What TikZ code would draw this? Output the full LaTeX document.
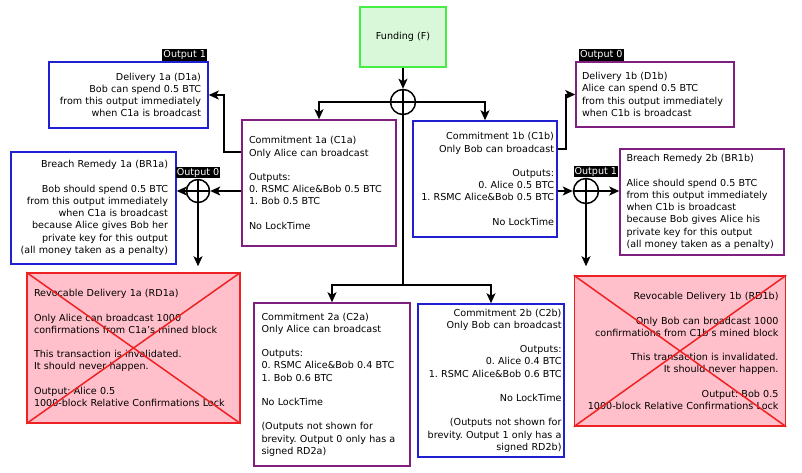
\documentclass[tikz,border=0pt]{standalone}
\usepackage{fontspec}
\setmainfont{DejaVu Sans}
\usetikzlibrary{arrows.meta}
\usetikzlibrary{calc,positioning}
\frenchspacing

\definecolor{txblue}{HTML}{2020D0}
\definecolor{txpurple}{HTML}{7F1F7F}
\definecolor{fundgreen}{HTML}{44EE44}
\definecolor{fundfill}{HTML}{D9F7D9}
\definecolor{rdfill}{HTML}{FFC0CB}
\definecolor{rdred}{HTML}{EE2222}

\begin{document}
\begin{tikzpicture}[x=1pt,y=-1pt,
    font=\fontsize{9.6}{12.2}\selectfont,
    >={Stealth[length=10pt,width=9pt,inset=2.5pt]},
    every path/.style={line width=1.5pt},
    tx/.style={draw,line width=1.5pt,inner xsep=7pt,inner ysep=0pt},
    fundbox/.style={draw=fundgreen,fill=fundfill,line width=1.5pt,minimum width=86pt,minimum height=60pt},
    rdbox/.style={tx,draw=rdred,fill=rdfill},
    xc/.style={circle,draw,line width=1.5pt,minimum size=25pt,inner sep=0pt},
    outlbl/.style={fill=black,text=white,inner xsep=1pt,inner ysep=1pt}]
      \useasboundingbox (0,0) rectangle (802,472);

      % Funding
      \node[fundbox] (fund) at (403,37) {Funding (F)};
      \node[xc] (xF) at (403,102) {};
      \draw (xF.north) -- (xF.south) (xF.west) -- (xF.east);
      \draw[->] (fund) -- (xF);

      % Commitment 1a
      \node[tx,draw=txpurple,align=left,text width=140pt,minimum height=126pt] (C1a) at (319,183)
        {Commitment 1a (C1a)\\Only Alice can broadcast\\[12.2pt]Outputs:\\0. RSMC Alice\&Bob 0.5 BTC\\1. Bob 0.5 BTC\\[12.2pt]No LockTime};

      % Commitment 1b
      \node[tx,draw=txblue,align=right,inner xsep=3pt,text width=138pt,minimum height=116pt] (C1b) at (485,179)
        {Commitment 1b (C1b)\\Only Bob can broadcast\\[12.2pt]Outputs:\\0. Alice 0.5 BTC\\1. RSMC Alice\&Bob 0.5 BTC\\[12.2pt]No LockTime};

      \draw[->] (xF.center) -| (C1a.north);
      \draw[->] (xF.center) -| (C1b.north);

      % Delivery 1a
      \node[tx,draw=txblue,align=right,text width=145pt,minimum height=66pt] (D1a) at (128.5,95)
        {Delivery 1a (D1a)\\Bob can spend 0.5 BTC\\from this output immediately\\when C1a is broadcast};
      \node[outlbl,above left=0pt and 1pt of D1a.north east] (oD1a) {Output 1};

      % Delivery 1b
      \node[tx,draw=txpurple,align=left,inner xsep=6pt,text width=146pt,minimum height=65pt] (D1b) at (655,94.5)
        {Delivery 1b (D1b)\\Alice can spend 0.5 BTC\\from this output immediately\\when C1b is broadcast};
      \node[outlbl,above right=0pt and 3pt of D1b.north west] (oD1b) {Output 0};

      % Breach Remedy 1a
      \node[tx,draw=txblue,align=right,inner xsep=8pt,text width=149pt,minimum height=112pt] (BR1a) at (93.5,208)
        {Breach Remedy 1a (BR1a)\\[12.2pt]Bob should spend 0.5 BTC\\from this output immediately\\when C1a is broadcast\\because Alice gives Bob her\\private key for this output\\(all money taken as a penalty)};

      % Breach Remedy 2b
      \node[tx,draw=txpurple,align=left,inner xsep=6.5pt,text width=151pt,minimum height=106pt] (BR1b) at (702,202)
        {Breach Remedy 2b (BR1b)\\[12.2pt]Alice should spend 0.5 BTC\\from this output immediately\\when C1b is broadcast\\because Bob gives Alice his\\private key for this output\\(all money taken as a penalty)};

      % Output 0 of C1a
      \node[xc,minimum size=23pt] (xA) at (198,191) {};
      \draw (xA.north) -- (xA.south) (xA.west) -- (xA.east);
      \node[outlbl,above=0pt of xA.north] (oA) {Output 0};
      \coordinate (a1) at (224,152);
      \draw[->] (C1a.west |- a1) -- (a1) |- (D1a.east);
      \draw[->] (C1a.west |- xA) -- (xA.east);
      \draw[->] (xA.west) -- (BR1a.east |- xA);

      % Output 1 of C1b
      \node[xc] (xB) at (586,191) {};
      \draw (xB.north) -- (xB.south) (xB.west) -- (xB.east);
      \node[outlbl,anchor=south west] (oB) at (xB.west |- xB.north) {Output 1};
      \coordinate (b1) at (566,149);
      \draw[->] (C1b.east |- b1) -- (b1) |- (D1b.west);
      \draw[->] (C1b.east |- xB) -- (xB.west);
      \draw[->] (xB.east) -- (BR1b.west |- xB);

      % Revocable Delivery 1a
      \node[rdbox,align=left,text width=199pt,minimum height=150pt] (RD1a) at (133.5,348)
        {Revocable Delivery 1a (RD1a)\\[12.2pt]Only Alice can broadcast 1000\\confirmations from C1a's mined block\\[12.2pt]This transaction is invalidated.\\It should never happen.\\[12.2pt]Output: Alice 0.5\\1000-block Relative Confirmations Lock};
      \draw[rdred] (RD1a.north west) -- (RD1a.south east) (RD1a.south west) -- (RD1a.north east);
      \draw[->,shorten >=6pt] (xA.south) -- (xA |- RD1a.north);

      % Revocable Delivery 1b
      \node[rdbox,align=right,text width=197pt,minimum height=150pt] (RD1b) at (680,351)
        {Revocable Delivery 1b (RD1b)\\[12.2pt]Only Bob can broadcast 1000\\confirmations from C1b's mined block\\[12.2pt]This transaction is invalidated.\\It should never happen.\\[12.2pt]Output: Bob 0.5\\1000-block Relative Confirmations Lock};
      \draw[rdred] (RD1b.north west) -- (RD1b.south east) (RD1b.south west) -- (RD1b.north east);
      \draw[->,shorten >=9pt] (xB.south) -- (xB |- RD1b.north);

      % Commitment 2a
      \node[tx,draw=txpurple,align=left,inner xsep=7.5pt,text width=141pt,minimum height=163pt] (C2a) at (332,384.5)
        {Commitment 2a (C2a)\\Only Alice can broadcast\\[12.2pt]Outputs:\\0. RSMC Alice\&Bob 0.4 BTC\\1. Bob 0.6 BTC\\[12.2pt]No LockTime\\[12.2pt](Outputs not shown for\\brevity. Output 0 only has a\\signed RD2a)};

      % Commitment 2b
      \node[tx,draw=txblue,align=right,inner xsep=2.5pt,text width=141pt,minimum height=153pt] (C2b) at (491,380.5)
        {Commitment 2b (C2b)\\Only Bob can broadcast\\[12.2pt]Outputs:\\0. Alice 0.4 BTC\\1. RSMC Alice\&Bob 0.6 BTC\\[12.2pt]No LockTime\\[12.2pt](Outputs not shown for\\brevity. Output 1 only has a\\signed RD2b)};

      \coordinate (split) at (403,285);
      \draw (xF.center) -- (split);
      \draw[->] (split) -| (C2a.north);
      \draw[->] (split) -| (C2b.north);
    \end{tikzpicture}
\end{document}
